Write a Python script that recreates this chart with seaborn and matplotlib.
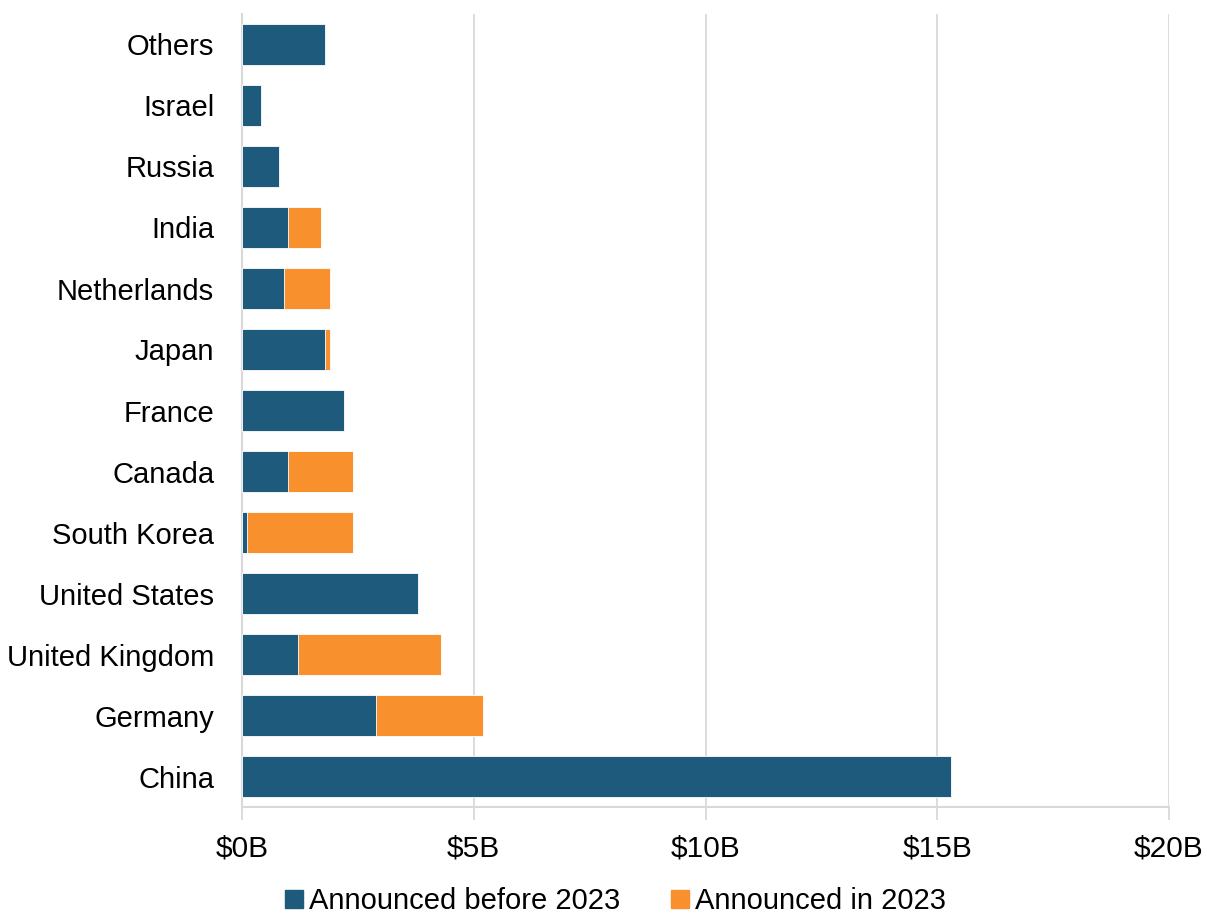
import matplotlib
matplotlib.use("Agg")
import matplotlib.pyplot as plt
import seaborn as sns
import pandas as pd
from matplotlib.lines import Line2D

countries = ["Others", "Israel", "Russia", "India", "Netherlands", "Japan", "France",
             "Canada", "South Korea", "United States", "United Kingdom", "Germany", "China"]
before_2023 = [1.8, 0.4, 0.8, 1.0, 0.9, 1.8, 2.2, 1.0, 0.1, 3.8, 1.2, 2.9, 15.3]
in_2023 = [0.0, 0.0, 0.0, 0.7, 1.0, 0.1, 0.0, 1.4, 2.3, 0.0, 3.1, 2.3, 0.0]
xticks = [0, 5, 10, 15, 20]
xtick_labels = ["$0B", "$5B", "$10B", "$15B", "$20B"]
series_names = ["Announced before 2023", "Announced in 2023"]

BLUE = "#1E5A7B"
ORANGE = "#F7902D"
GRID = "#D9D9D9"

df = pd.DataFrame({"country": countries, "before": before_2023, "in2023": in_2023})
df["total"] = df["before"] + df["in2023"]

sns.set_theme(style="white")
plt.rcParams["font.family"] = ["Liberation Sans", "DejaVu Sans"]
plt.rcParams["text.color"] = "black"

fig = plt.figure(figsize=(12.07, 9.13), dpi=100)
ax = fig.add_axes([242 / 1207, 1 - 807 / 913, (1169 - 242) / 1207, (807 - 14) / 913])

sns.barplot(data=df, x="total", y="country", order=countries, color=ORANGE,
            width=0.66, ax=ax, edgecolor="white", linewidth=0.6, saturation=1, zorder=3)
sns.barplot(data=df, x="before", y="country", order=countries, color=BLUE,
            width=0.66, ax=ax, edgecolor="white", linewidth=0.6, saturation=1, zorder=4)

ax.set_xlim(0, 20)
ax.set_ylim(len(countries) - 0.5, -0.5)
ax.set_xticks(xticks)
ax.set_xticklabels(xtick_labels)
ax.set_xlabel("")
ax.set_ylabel("")
ax.xaxis.grid(True, color=GRID, linewidth=1.3, zorder=0)
ax.yaxis.grid(False)
ax.set_axisbelow(True)

for s in ["top", "right"]:
    ax.spines[s].set_visible(False)
for s in ["left", "bottom"]:
    ax.spines[s].set_color(GRID)
    ax.spines[s].set_linewidth(1.5)

ax.tick_params(axis="x", which="major", bottom=True, length=9, width=1.3, color=GRID,
               labelsize=21.5, labelcolor="black", pad=11)
ax.tick_params(axis="y", left=False, labelsize=21, labelcolor="black", pad=14)
for lbl in ax.get_yticklabels():
    lbl.set_verticalalignment("center_baseline")

handles = [Line2D([0], [0], marker="s", linestyle="", markersize=13, color=BLUE),
           Line2D([0], [0], marker="s", linestyle="", markersize=13, color=ORANGE)]
leg = fig.legend(handles, series_names, loc="center",
                 bbox_to_anchor=(0.5 + 10 / 1207, 1 - 901 / 913),
                 ncol=2, frameon=False, fontsize=21, handletextpad=0.05, columnspacing=1.6,
                 handlelength=0.9)
for t in leg.get_texts():
    t.set_color("black")

fig.savefig("out.png", dpi=100)
